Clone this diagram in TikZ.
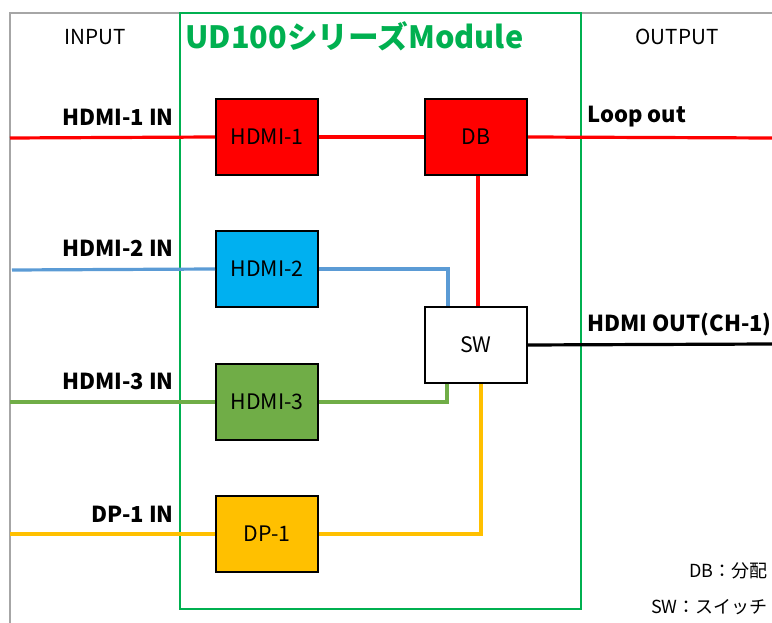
\documentclass[tikz,border=0pt]{standalone}
\usepackage{fontspec}
\setmainfont{Noto Sans CJK JP}
\usetikzlibrary{calc}
\definecolor{cred}{HTML}{FF0000}
\definecolor{cblueb}{HTML}{00B0F0}
\definecolor{cbluel}{HTML}{5B9BD5}
\definecolor{cgreen}{HTML}{70AD47}
\definecolor{cyellow}{HTML}{FFC000}
\definecolor{cframe}{HTML}{00B050}
\definecolor{cgray}{HTML}{A6A6A6}
\tikzset{
  blk/.style={draw=black, line width=1.5pt, minimum width=76.5pt, minimum height=57pt, inner sep=0pt, font=\fontsize{16}{18}\selectfont},
  sig/.style={line width=2.4pt},
  inlab/.style={anchor=east, inner sep=0pt, font=\bfseries\fontsize{16.5}{18}\selectfont},
  outlab/.style={anchor=west, inner sep=0pt, font=\bfseries\fontsize{16.5}{18}\selectfont},
  hdr/.style={inner sep=0pt, font=\fontsize{15.5}{17}\selectfont},
  note/.style={anchor=east, inner sep=0pt, font=\fontsize{13.5}{15}\selectfont},
}
\begin{document}
\begin{tikzpicture}[x=0.75pt,y=-0.75pt]
\useasboundingbox (0,0) rectangle (772,623);
% gray frame
\draw[cgray, line width=1pt] (10,623) -- (10,13) -- (772,13);
% green module frame
\draw[cframe, line width=1.3pt] (180,13) rectangle (581,609);
\node[anchor=west, inner sep=0pt, text=cframe, font=\bfseries\fontsize{23}{26}\selectfont] (title) at (185,36) {UD100シリーズModule};
\node[hdr] (inp) at (95,37) {INPUT};
\node[hdr] (outp) at (677,37) {OUTPUT};
% connectors (drawn first, under the blocks)
\coordinate (i1) at (10,138);
\coordinate (i2) at (12,270);
\coordinate (i3) at (10,402);
\coordinate (i4) at (10,534);
\coordinate (lo) at (772,138);
\coordinate (ho) at (772,344);
% blocks
\node[blk, fill=cred] (h1) at (267,137) {HDMI-1};
\node[blk, fill=cred] (db) at (476,137) {DB};
\node[blk, fill=cblueb] (h2) at (267,269) {HDMI-2};
\node[blk, fill=cgreen] (h3) at (267,402) {HDMI-3};
\node[blk, fill=cyellow] (dp) at (267,534) {DP-1};
\node[blk, fill=white] (sw) at (476,345) {SW};
\draw[sig, cred] (i1) -- (h1.west);
\draw[sig, cred] (h1.east) -- (db.west);
\draw[sig, cred] (db.east) -- (lo);
\draw[sig, cred] ($(db.south)+(2,0)$) -- ($(sw.north)+(2,0)$);
\draw[sig, cbluel] (i2) -- (h2.west);
\draw[sig, cbluel] (h2.east) -| ($(sw.north west)+(24,0)$);
\draw[sig, cgreen] (i3) -- (h3.west);
\draw[sig, cgreen] (h3.east) -| ($(sw.south west)+(23,0)$);
\draw[sig, cyellow] (i4) -- (dp.west);
\draw[sig, cyellow] (dp.east) -| ($(sw.south west)+(57,0)$);
\draw[sig, black] (sw.east) -- (ho);
% labels
\node[inlab] (l1) at (174,117) {HDMI-1 IN};
\node[inlab] (l2) at (174,248) {HDMI-2 IN};
\node[inlab] (l3) at (174,381) {HDMI-3 IN};
\node[inlab] (l4) at (174,514) {DP-1 IN};
\node[outlab] (l5) at (587,117) {Loop out};
\node[outlab] (l6) at (587,325) {HDMI OUT(CH-1)};
\node[note] (n1) at (768,571) {DB：分配};
\node[note] (n2) at (768,607) {SW：スイッチ};
\end{tikzpicture}
\end{document}
